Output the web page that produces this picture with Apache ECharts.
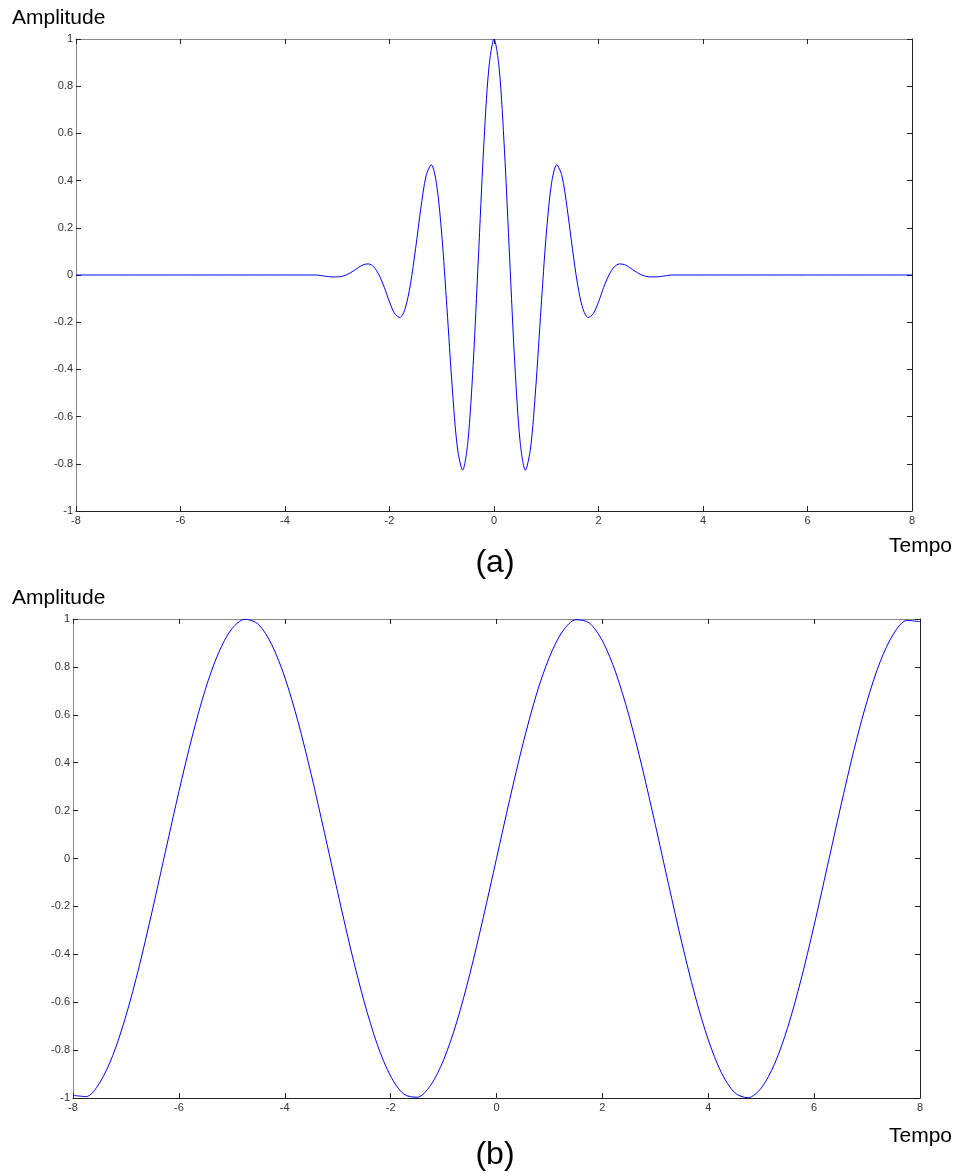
<!DOCTYPE html>
<html>
<head>
<meta charset="utf-8">
<title>Amplitude x Tempo</title>
<script src="https://cdn.jsdelivr.net/npm/echarts@6/dist/echarts.min.js"></script>
<style>
	html, body { margin: 0; padding: 0; background: #fff; }
	#container { width: 962px; height: 1176px; }
</style>
</head>
<body>
<div id="container"></div>
<script>
//(a) ondaleta - tempo
var waveletT = [-8, -6, -4, -3.5,
	-3.4, -3.3, -3.2, -3.1, -3.0, -2.9, -2.8, -2.7, -2.6, -2.5, -2.4, -2.3, -2.2, -2.1, -2.0,
	-1.9, -1.8, -1.7, -1.6, -1.5, -1.4, -1.3, -1.2, -1.1, -1.0,
	-0.9, -0.8, -0.7, -0.6, -0.5, -0.4, -0.3, -0.2, -0.1, 0,
	0.1, 0.2, 0.3, 0.4, 0.5, 0.6, 0.7, 0.8, 0.9, 1.0,
	1.1, 1.2, 1.3, 1.4, 1.5, 1.6, 1.7, 1.8, 1.9, 2.0,
	2.1, 2.2, 2.3, 2.4, 2.5, 2.6, 2.7, 2.8, 2.9, 3.0,
	3.1, 3.2, 3.3, 3.4, 3.5, 4, 6, 8];
//(a) ondaleta - amplitude
var waveletAmp = [0, 0, 0, 0,
	0, -0.003, -0.006, -0.008, -0.008, -0.005, 0.003, 0.016, 0.031, 0.044, 0.047, 0.034, 0.000, -0.052, -0.114,
	-0.164, -0.180, -0.142, -0.040, 0.113, 0.283, 0.420, 0.467, 0.387, 0.172,
	-0.141, -0.475, -0.733, -0.827, -0.707, -0.384, 0.068, 0.530, 0.873, 1,
	0.873, 0.530, 0.068, -0.384, -0.707, -0.827, -0.733, -0.475, -0.141, 0.172,
	0.387, 0.467, 0.420, 0.283, 0.113, -0.040, -0.142, -0.180, -0.164, -0.114,
	-0.052, 0.000, 0.034, 0.047, 0.044, 0.031, 0.016, 0.003, -0.005, -0.008,
	-0.008, -0.006, -0.003, 0, 0, 0, 0, 0];
//(b) senoide - tempo
var sineT = [-8, -7.75, -7.5, -7.25, -7, -6.75, -6.5, -6.25, -6, -5.75, -5.5, -5.25,
	-5, -4.75, -4.5, -4.25, -4, -3.75, -3.5, -3.25, -3, -2.75, -2.5, -2.25,
	-2, -1.75, -1.5, -1.25, -1, -0.75, -0.5, -0.25, 0,
	0.25, 0.5, 0.75, 1, 1.25, 1.5, 1.75, 2, 2.25, 2.5, 2.75, 3,
	3.25, 3.5, 3.75, 4, 4.25, 4.5, 4.75, 5, 5.25, 5.5, 5.75, 6,
	6.25, 6.5, 6.75, 7, 7.25, 7.5, 7.75, 8];
//(b) senoide - amplitude
var sineAmp = [-0.989, -0.994, -0.938, -0.823, -0.657, -0.451, -0.215, 0.033, 0.279, 0.508, 0.706, 0.859,
	0.959, 0.999, 0.978, 0.895, 0.757, 0.572, 0.351, 0.108, -0.141, -0.382, -0.598, -0.778,
	-0.909, -0.984, -0.997, -0.949, -0.841, -0.682, -0.479, -0.247, 0,
	0.247, 0.479, 0.682, 0.841, 0.949, 0.997, 0.984, 0.909, 0.778, 0.598, 0.382, 0.141,
	-0.108, -0.351, -0.572, -0.757, -0.895, -0.978, -0.999, -0.959, -0.859, -0.706, -0.508, -0.279,
	-0.033, 0.215, 0.451, 0.657, 0.823, 0.938, 0.994, 0.989];

var FONT = '"Liberation Sans", Arial, Helvetica, sans-serif';

$init();

function $init() {
	var dom = document.getElementById("container");
	var myChart = echarts.init(dom, null, {renderer: 'canvas'});
	var option = {
		animation: false,
		backgroundColor: '#fff',
		grid: [
			{left: 76, top: 39, width: 836, height: 472},
			{left: 73, top: 619, width: 847, height: 479}
		],
		xAxis: [
			xAxisOf(0, 'bottom', true),
			xAxisOf(0, 'top', false),
			xAxisOf(1, 'bottom', true),
			xAxisOf(1, 'top', false)
		],
		yAxis: [
			yAxisOf(0, 'left', true),
			yAxisOf(0, 'right', false),
			yAxisOf(1, 'left', true),
			yAxisOf(1, 'right', false)
		],
		series: [
			lineOf(0, waveletT, waveletAmp),
			lineOf(2, sineT, sineAmp)
		],
		graphic: [
			textOf(12, 8, 'Amplitude', 21, 'left'),
			textOf(889, 536, 'Tempo', 21, 'left'),
			textOf(495, 547, '(a)', 32, 'center'),
			textOf(12, 588, 'Amplitude', 21, 'left'),
			textOf(889, 1126, 'Tempo', 21, 'left'),
			textOf(495, 1139, '(b)', 32, 'center')
		]
	};
	if (option && typeof option === "object") {
		myChart.setOption(option, true);
	}
}

/**
 * eixo x (tempo)
 */
function xAxisOf(gridIndex, position, showLabel) {
	return {
		type: 'value',
		gridIndex: gridIndex,
		position: position,
		min: -8,
		max: 8,
		interval: 2,
		axisLine: {onZero: false, lineStyle: {color: position == 'bottom' ? '#222' : '#888', width: 1}},
		axisTick: {inside: true, length: 5, lineStyle: {color: '#222'}},
		axisLabel: {show: showLabel, margin: 4, fontSize: 11, color: '#333', fontFamily: FONT},
		splitLine: {show: false}
	};
}

/**
 * eixo y (amplitude)
 */
function yAxisOf(gridIndex, position, showLabel) {
	return {
		type: 'value',
		gridIndex: gridIndex,
		position: position,
		min: -1,
		max: 1,
		interval: 0.2,
		axisLine: {onZero: false, lineStyle: {color: position == 'right' ? '#222' : '#888', width: 1}},
		axisTick: {inside: true, length: 5, lineStyle: {color: '#222'}},
		axisLabel: {show: showLabel, margin: 3, fontSize: 11, color: '#333', fontFamily: FONT},
		splitLine: {show: false}
	};
}

function lineOf(axisIndex, xs, ys) {
	var data = [];
	for (var i = 0; i < xs.length; i++) {
		data.push([xs[i], ys[i]]);
	}
	return {
		type: 'line',
		xAxisIndex: axisIndex,
		yAxisIndex: axisIndex,
		data: data,
		smooth: 0.3,
		showSymbol: false,
		lineStyle: {color: '#0000ff', width: 1},
		z: 1
	};
}

function textOf(x, y, text, size, align) {
	return {
		type: 'text',
		x: x,
		y: y,
		style: {
			text: text,
			fill: '#000',
			font: size + 'px ' + FONT,
			textAlign: align,
			textVerticalAlign: 'top'
		}
	};
}
</script>
</body>
</html>
